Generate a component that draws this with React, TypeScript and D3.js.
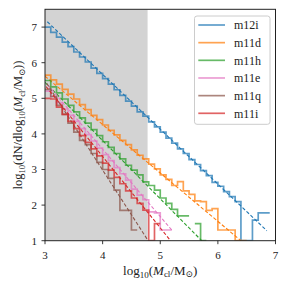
import * as d3 from 'd3';

// galaxy names, in legend order
const galaxies = ['m12i', 'm11d', 'm11h', 'm11e', 'm11q', 'm11i'];
const colors = ['#1f77b4', '#ff7f0e', '#2ca02c', '#e377c2', '#8c564b', '#d62728'];

// log10(dN/dlog10 M) per 0.1 dex bin, starting at log10 M = 3.0 (null = empty bin)
const m12i = [7.0, 6.85, 6.72, 6.58, 6.45, 6.3, 6.16, 6.02, 5.85, 5.7, 5.55, 5.4, 5.24, 5.08, 4.92, 4.78, 4.62, 4.5,
  4.34, 4.2, 4.05, 3.88, 3.74, 3.58, 3.45, 3.28, 3.14, 2.97, 2.83, 2.64, 2.53, 2.38, 2.24, 2.1, 1.0, 1.0, 1.58, 1.78, 1.78];
const m11d = [5.65, 5.52, 5.4, 5.25, 5.12, 4.98, 4.82, 4.68, 4.52, 4.4, 4.25, 4.1, 3.97, 3.82, 3.7, 3.55, 3.4, 3.3,
  3.15, 3.02, 2.85, 2.72, 2.55, 2.66, 2.4, 2.3, 2.12, 2.1, 1.85, 1.9, 1.3, 1.3, 1.3, 1.0, 1.0];
const m11h = [5.5, 5.32, 5.15, 4.98, 4.8, 4.62, 4.45, 4.3, 4.12, 3.95, 3.78, 3.62, 3.45, 3.3, 3.12, 2.98, 2.85, 2.65,
  2.55, 2.42, 2.2, 2.05, 1.88, 1.7, 1.7, null, 1.48, 1.0];
const m11e = [5.2, 5.05, 4.88, 4.7, 4.52, 4.35, 4.15, 3.98, 3.8, 3.6, 3.42, 3.25, 3.05, 2.88, 2.7, 2.45, 2.28, 2.15,
  1.81, 1.78, 1.3, 1.3];
const m11q = [5.25, 5.05, 4.8, 4.55, 4.3, 4.05, 3.82, 3.7, 3.45, 3.2, 3.0, 2.75, 2.42, 1.85, 1.85, 1.3];
const m11i = [5.0, 4.98, 4.75, 4.55, 4.35, 4.15, 3.95, 3.76, 3.58, 3.38, 3.18, 2.98, 2.78, 2.6, 2.4, 2.2, 2.05, 1.86,
  1.0, 1.48];
const stepValues = [m12i, m11d, m11h, m11e, m11q, m11i];

// power-law fits (dashed), endpoints in log10 M and log10 dN/dlogM
const fitX0 = [3.04, 3.0, 3.0, 3.05, 3.03, 3.02];
const fitY0 = [7.15, 5.62, 5.45, 5.37, 5.42, 5.33];
const fitX1 = [6.85, 6.4, 5.72, 5.2, 4.79, 5.18];
const fitY1 = [1.28, 1.0, 1.0, 1.3, 1.0, 1.0];

const binStart = 3.0;
const binWidth = 0.1;
const completenessLimit = 4.78;

const xTicks = [3, 4, 5, 6, 7];
const yTicks = [1, 2, 3, 4, 5, 6, 7];

const FONT = '"Liberation Serif", "DejaVu Serif", serif';

const App = () => {
  const width = 289;
  const height = 290;
  const left = 45;
  const right = 275.5;
  const top = 9.3;
  const bottom = 240.7;

  const x = d3.scaleLinear().domain([3, 7]).range([left, right]);
  const y = d3.scaleLinear().domain([1, 7.5]).range([bottom, top]);

  const line = d3
    .line<[number, number | null]>()
    .defined((d) => d[1] !== null)
    .x((d) => x(d[0]))
    .y((d) => y(d[1] as number));

  // each bin becomes two points so that the path is a step histogram
  const stepPoints = (vals: (number | null)[]) => {
    const pts: [number, number | null][] = [];
    vals.forEach((v, i) => {
      pts.push([binStart + i * binWidth, v]);
      pts.push([binStart + (i + 1) * binWidth, v]);
    });
    return pts;
  };

  const legendY = d3.scaleLinear().domain([0, 5]).range([25, 113.3]);

  return (
    <svg width={width} height={height} style={{ position: 'absolute', left: 0, top: 0 }} fontFamily={FONT}>
      <defs>
        <clipPath id="plot-area">
          <rect x={left} y={top} width={right - left} height={bottom - top} />
        </clipPath>
      </defs>
      <rect x={0} y={0} width={width} height={height} fill="white" />

      <g clipPath="url(#plot-area)">
        <rect x={x(3)} y={top} width={x(completenessLimit) - x(3)} height={bottom - top} fill="#d3d3d3" />
        {galaxies.map((g, i) => (
          <g key={g}>
            <path
              d={line(stepPoints(stepValues[i])) || ''}
              fill="none"
              stroke={colors[i]}
              strokeWidth={1.7}
              strokeOpacity={0.72}
            />
            <line
              x1={x(fitX0[i])}
              y1={y(fitY0[i])}
              x2={x(fitX1[i])}
              y2={y(fitY1[i])}
              stroke={colors[i]}
              strokeWidth={1.1}
              strokeDasharray="3.5,2"
            />
          </g>
        ))}
      </g>

      {/* frame */}
      <rect x={left} y={top} width={right - left} height={bottom - top} fill="none" stroke="#222" strokeWidth={1} />

      {/* x ticks */}
      {xTicks.map((t) => (
        <g key={'x' + t}>
          <line x1={x(t)} x2={x(t)} y1={bottom} y2={bottom + 3.5} stroke="#222" strokeWidth={0.9} />
          <text x={x(t)} y={258.5} textAnchor="middle" fontSize={11} fill="#222">
            {t}
          </text>
        </g>
      ))}
      {/* y ticks */}
      {yTicks.map((t) => (
        <g key={'y' + t}>
          <line x1={left - 3.5} x2={left} y1={y(t)} y2={y(t)} stroke="#222" strokeWidth={0.9} />
          <text x={37} y={y(t)} dy="0.35em" textAnchor="end" fontSize={11} fill="#222">
            {t}
          </text>
        </g>
      ))}

      {/* x label */}
      <text x={(left + right) / 2} y={274.5} textAnchor="middle" fontSize={13} fill="#222">
        log<tspan dy={3} fontSize={9}>10</tspan>
        <tspan dy={-3}>(</tspan>
        <tspan fontStyle="italic">M</tspan>
        <tspan dy={2.5} fontSize={9}>cl</tspan>
        <tspan dy={-2.5}>/M</tspan>
        <tspan dy={2.5} fontSize={9}>⊙</tspan>
        <tspan dy={-2.5}>)</tspan>
      </text>

      {/* y label */}
      <text
        transform={`translate(22,${(top + bottom) / 2}) rotate(-90)`}
        textAnchor="middle"
        fontSize={12.5}
        fill="#222"
      >
        log<tspan dy={3} fontSize={8.5}>10</tspan>
        <tspan dy={-3}>(dN/dlog</tspan>
        <tspan dy={3} fontSize={8.5}>10</tspan>
        <tspan dy={-3}>(</tspan>
        <tspan fontStyle="italic">M</tspan>
        <tspan dy={2.5} fontSize={8.5}>cl</tspan>
        <tspan dy={-2.5}>/M</tspan>
        <tspan dy={2.5} fontSize={8.5}>⊙</tspan>
        <tspan dy={-2.5}>))</tspan>
      </text>

      {/* legend */}
      <rect x={194.5} y={16} width={75.5} height={108.3} rx={2.5} fill="white" fillOpacity={0.8} stroke="#cccccc" strokeWidth={1} />
      {galaxies.map((g, i) => (
        <g key={'leg' + g}>
          <line x1={198.3} x2={225} y1={legendY(i)} y2={legendY(i)} stroke={colors[i]} strokeWidth={1.7} strokeOpacity={0.72} />
          <text x={234} y={legendY(i)} dy="0.35em" fontSize={12} fill="#222">
            {g}
          </text>
        </g>
      ))}
    </svg>
  );
};

export default App;
